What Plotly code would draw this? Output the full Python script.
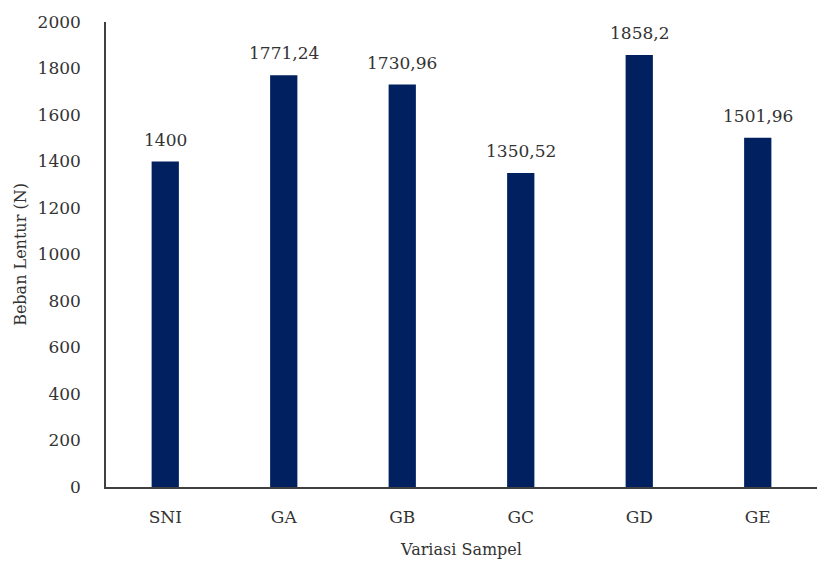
import plotly.graph_objects as go

categories = ["SNI", "GA", "GB", "GC", "GD", "GE"]
beban_lentur = [1400, 1771.24, 1730.96, 1350.52, 1858.2, 1501.96]
value_labels = ["1400", "1771,24", "1730,96", "1350,52", "1858,2", "1501,96"]
y_ticks = [0, 200, 400, 600, 800, 1000, 1200, 1400, 1600, 1800, 2000]

FONT = "DejaVu Serif"
TEXT_COLOR = "#333333"

fig = go.Figure(
    go.Bar(
        x=categories,
        y=beban_lentur,
        marker=dict(color="#002060", line=dict(width=0)),
        hoverinfo="x+y",
    )
)

# value labels above each bar
for cat, val, lab in zip(categories, beban_lentur, value_labels):
    fig.add_annotation(
        x=cat,
        y=val,
        text=lab,
        showarrow=False,
        yanchor="bottom",
        yshift=10,
        font=dict(family=FONT, size=17, color=TEXT_COLOR),
    )

fig.update_layout(
    width=818,
    height=563,
    margin=dict(l=106, r=1, t=22, b=76),
    paper_bgcolor="white",
    plot_bgcolor="white",
    bargap=0.77,
    showlegend=False,
    font=dict(family=FONT, color=TEXT_COLOR),
)

fig.update_xaxes(
    showline=True,
    linecolor="#404040",
    linewidth=1.5,
    ticks="",
    ticklabelstandoff=14,
    tickfont=dict(family=FONT, size=17, color=TEXT_COLOR),
    title=dict(text="Variasi Sampel", font=dict(family=FONT, size=16, color=TEXT_COLOR), standoff=18),
)

fig.update_yaxes(
    range=[0, 2000],
    tickvals=y_ticks,
    showline=True,
    linecolor="#404040",
    linewidth=1.5,
    showgrid=False,
    zeroline=False,
    ticks="",
    ticklabelstandoff=20,
    tickfont=dict(family=FONT, size=17, color=TEXT_COLOR),
    title=dict(text="Beban Lentur (N)", font=dict(family=FONT, size=16, color=TEXT_COLOR), standoff=7),
)

fig.write_html("out.html")
